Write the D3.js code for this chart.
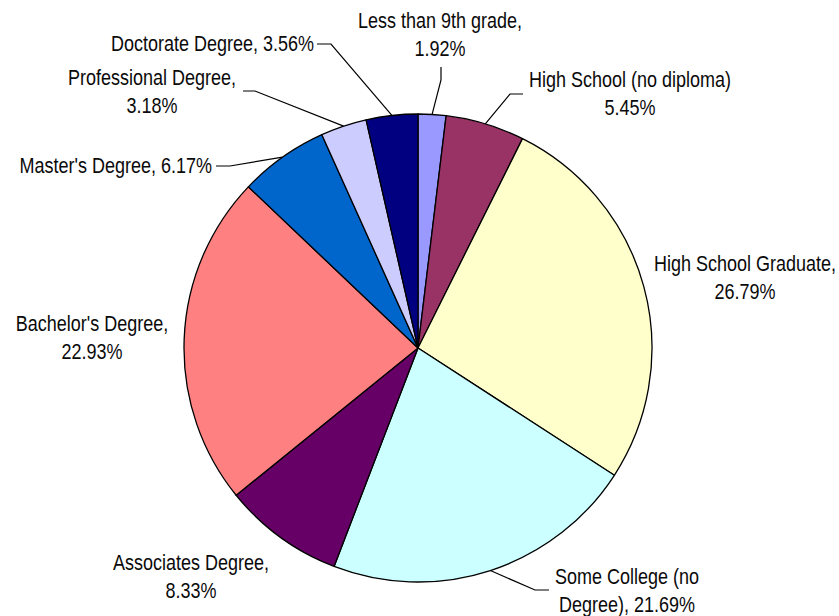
<!DOCTYPE html>
<html>
<head>
<meta charset="utf-8">
<script src="https://cdn.jsdelivr.net/npm/d3@7"></script>
<style>
body { margin:0; background:#fff; }
text { font-family:"Liberation Sans", Arial, sans-serif; font-size:18px; fill:#0a0a0a; }
</style>
</head>
<body>
<svg id="piechart"></svg>
<script>
// data, clockwise from 12 o'clock
var categories = ["Less than 9th grade", "High School (no diploma)", "High School Graduate",
    "Some College (no Degree)", "Associates Degree", "Bachelor's Degree",
    "Master's Degree", "Professional Degree", "Doctorate Degree"];
var shares = [1.92, 5.45, 26.79, 21.69, 8.33, 22.93, 6.17, 3.18, 3.56];
var labelLines = [
    ["Less than 9th grade,", "1.92%"],
    ["High School (no diploma)", "5.45%"],
    ["High School Graduate,", "26.79%"],
    ["Some College (no", "Degree), 21.69%"],
    ["Associates Degree,", "8.33%"],
    ["Bachelor's Degree,", "22.93%"],
    ["Master's Degree, 6.17%"],
    ["Professional Degree,", "3.18%"],
    ["Doctorate Degree, 3.56%"]
];
var sliceColors = ["#9999FF", "#993366", "#FFFFCC", "#CCFFFF", "#660066",
    "#FF8080", "#0066CC", "#CCCCFF", "#000080"];

// label placement (page coords): text anchor point, and leader elbow / end
var labelLayout = [
    {x:440, y:28,  anchor:"middle", elbow:[441,80],  end:[441,67]},
    {x:630, y:87,  anchor:"middle", elbow:[510,94],  end:[523,94]},
    {x:745, y:271, anchor:"middle"},
    {x:627, y:584, anchor:"middle", elbow:[535,590], end:[549,590]},
    {x:191, y:570, anchor:"middle"},
    {x:92,  y:331, anchor:"middle"},
    {x:212, y:173, anchor:"end",    elbow:[230,166], end:[216,166]},
    {x:152, y:85,  anchor:"middle", elbow:[255,91],  end:[243,91]},
    {x:314, y:51,  anchor:"end",    elbow:[331,44],  end:[317,44]}
];

var screen = {width:839, height:616};
var center = {x:418, y:348};
var radius = 234;
var lineGap = 28;
var stretch = 1.2;

var svg = d3.select("#piechart")
    .attr("width", screen.width)
    .attr("height", screen.height);

var slices = d3.pie().sort(null).value(function(d){ return d; })(shares);

var arc = d3.arc().innerRadius(0).outerRadius(radius);
var edge = d3.arc().innerRadius(radius).outerRadius(radius);

var g = svg.append("g")
    .attr("transform", "translate(" + center.x + "," + center.y + ")");

g.selectAll("path.slice")
    .data(slices)
    .enter()
    .append("path")
    .classed("slice", true)
    .attr("d", arc)
    .attr("fill", function(d, i){ return sliceColors[i]; })
    .attr("stroke", "#000")
    .attr("stroke-width", 1.3)
    .attr("stroke-linejoin", "round");

// leader lines
var leaders = svg.append("g").classed("leaders", true);
slices.forEach(function(s, i){
    var lay = labelLayout[i];
    if (!lay.elbow) return;
    var p = edge.centroid(s);
    var pts = [[center.x + p[0], center.y + p[1]], lay.elbow, lay.end];
    leaders.append("path")
        .attr("d", d3.line()(pts))
        .attr("fill", "none")
        .attr("stroke", "#000")
        .attr("stroke-width", 1.2);
});

// labels
var labels = svg.append("g").classed("labels", true);
labelLines.forEach(function(lines, i){
    var lay = labelLayout[i];
    var t = labels.append("text")
        .attr("text-anchor", lay.anchor)
        .attr("transform", "translate(" + lay.x + "," + lay.y + ") scale(1," + stretch + ")");
    lines.forEach(function(line, k){
        t.append("tspan")
            .attr("x", 0)
            .attr("y", k * lineGap / stretch)
            .text(line);
    });
});
</script>
</body>
</html>
